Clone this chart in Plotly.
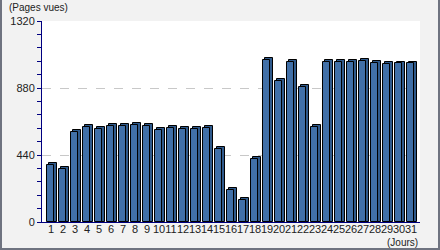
import plotly.graph_objects as go

days = list(range(1, 32))
day_labels = [str(d) for d in days]
page_views = [376, 350, 592, 624, 610, 630, 630, 637, 630, 606, 615, 610, 610, 615, 481,
              208, 142, 414, 1064, 926, 1050, 886, 624, 1050, 1050, 1050, 1059, 1044, 1035, 1041, 1041]
y_ticks = [0, 440, 880, 1320]

depth = 13  # visual 3D depth in value units (styling)

fig = go.Figure()
# back (side/top) face for pseudo-3D effect
fig.add_trace(go.Bar(
    x=days, y=[v + depth for v in page_views], width=0.62, offset=-0.16,
    marker=dict(color="#2f5a8c", line=dict(color="#000000", width=1)),
    hoverinfo="skip", showlegend=False,
))
# front face
fig.add_trace(go.Bar(
    x=days, y=page_views, width=0.62, offset=-0.34,
    marker=dict(color="#4170a8", line=dict(color="#000000", width=1)),
    showlegend=False,
))

font = dict(family="Liberation Sans, Arial, sans-serif", size=10, color="#222222")

fig.update_layout(
    width=440, height=250,
    margin=dict(l=42, r=20, t=21, b=28, autoexpand=False),
    paper_bgcolor="#f2f2f2", plot_bgcolor="#ffffff",
    barmode="overlay", bargap=0,
    font=font,
    xaxis=dict(
        range=[0.25, 31.75], tickmode="array", tickvals=days, ticktext=day_labels,
        tickangle=0, showgrid=False, zeroline=False, automargin=False,
        showline=True, linecolor="#000080", linewidth=1,
        ticks="", ticklen=0, ticklabelstandoff=-3,
        tickfont=dict(family=font["family"], size=11, color="#222222"),
    ),
    yaxis=dict(
        range=[0, 1320], tickmode="array", tickvals=y_ticks, automargin=False,
        showgrid=True, gridcolor="#c8c8c8", griddash="dash", gridwidth=1,
        zeroline=False, showline=True, linecolor="#000080", linewidth=1,
        ticks="outside", ticklen=4, tickcolor="#000080",
        minor=dict(dtick=88, tick0=0, ticks="outside", ticklen=4, tickcolor="#000080", showgrid=False),
        tickfont=dict(family=font["family"], size=11, color="#222222"),
    ),
    annotations=[
        dict(text="(Pages vues)", xref="paper", yref="paper", x=-42/378 + 7/378, y=1 + 14/201,
             xanchor="left", yanchor="middle", showarrow=False,
             font=dict(family=font["family"], size=10, color="#222222")),
        dict(text="(Jours)", xref="paper", yref="paper", x=1.0, y=-20/201,
             xanchor="right", yanchor="middle", showarrow=False,
             font=dict(family=font["family"], size=10, color="#222222")),
    ],
    shapes=[
        dict(type="line", xref="paper", yref="paper", x0=1 + 19/378, x1=1 + 19/378, y0=-28/201, y1=1 + 21/201,
             line=dict(color="#6f7380", width=2)),
        dict(type="line", xref="paper", yref="paper", x0=-42/378, x1=1 + 20/378, y0=-27/201, y1=-27/201,
             line=dict(color="#6f7380", width=2)),
        dict(type="line", xref="paper", yref="paper", x0=-41/378, x1=-41/378, y0=-28/201, y1=1 + 21/201,
             line=dict(color="#6f7380", width=2)),
    ],
)

fig.write_html("out.html")
